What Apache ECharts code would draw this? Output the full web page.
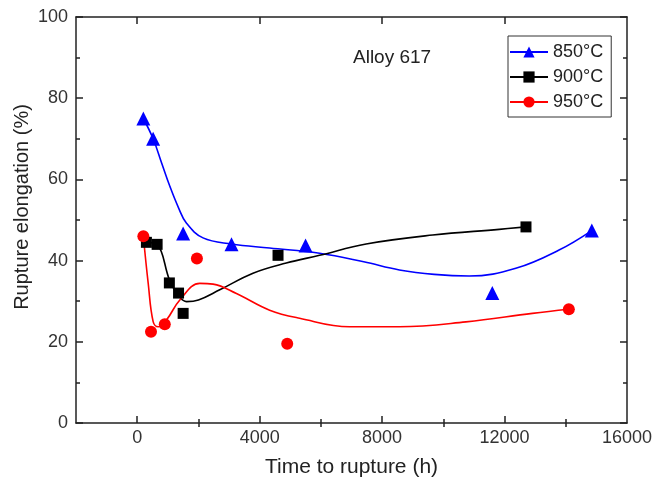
<!DOCTYPE html>
<html>
<head>
<meta charset="utf-8">
<script src="https://cdn.jsdelivr.net/npm/echarts@6/dist/echarts.min.js"></script>
<style>html,body{margin:0;padding:0;background:#fff;}#c{width:658px;height:485px;}</style>
</head>
<body>
<div id="c"></div>
<script>
// Measured points
const pts850 = [[200,75],[520,70],[1500,46.7],[3080,44],[5500,43.7],[11600,32],[14850,47.4]];
const pts900 = [[300,44.5],[650,44],[1050,34.5],[1350,32],[1500,27],[4600,41.3],[12700,48.3]];
const pts950 = [[200,46],[450,22.5],[900,24.3],[1950,40.5],[4900,19.5],[14100,28]];
// Fitted curves
const fit850 = [[200,75],[520,70],[800,64],[1066,58.3],[1350,53],[1610,49.2],[2150,45.6],[3077,44.1],[4326,43.1],[5956,41.8],[7400,39.7],[8564,37.7],[9700,36.6],[10846,36.2],[12368,38.1],[13780,42.6],[14850,47.4]];
const fit900 = [[300,44.5],[650,44],[1066,35],[1369,31.2],[1610,29.9],[2000,30.3],[2696,32.8],[3782,36.9],[4870,39.4],[5956,41.3],[7478,44.1],[9653,46.3],[11826,47.7],[12700,48.3]];
const fit950 = [[200,46],[359,34.4],[522,24.9],[685,23.7],[958,25.4],[1392,30.3],[2044,34.4],[2478,34.2],[3240,31.9],[4326,27.8],[5304,25.8],[6934,23.7],[8564,23.7],[10738,24.9],[12910,27.0],[14100,28]];
const xLabels = [0,4000,8000,12000,16000];
const xMajor = [0,4000,8000,12000];
const xMinor = [2000,6000,10000,14000];
const names = ['850°C','900°C','950°C'];
const colors = ['#0000ff','#000000','#ff0000'];
const symbols = ['triangle','rect','circle'];

const chart = echarts.init(document.getElementById('c'));
const font = 'Liberation Sans, Arial, sans-serif';
const baseX = {type:'value', min:-2000, max:16000, splitLine:{show:false},
  axisLine:{onZero:false, lineStyle:{color:'#222', width:1.5}}};
const baseY = {type:'value', min:0, max:100, interval:20, splitLine:{show:false},
  axisLine:{onZero:false, lineStyle:{color:'#222', width:1.5}}};
const option = {
  animation:false,
  textStyle:{fontFamily:font},
  grid:{left:76, right:31, top:17, bottom:62},
  xAxis:[
    Object.assign({}, baseX, {position:'bottom', name:'Time to rupture (h)', nameLocation:'middle', nameGap:34,
      nameTextStyle:{fontSize:21, color:'#222', fontFamily:font},
      axisTick:{inside:true, length:7, customValues:xMajor, lineStyle:{color:'#222', width:1.5}},
      axisLabel:{customValues:xLabels, formatter:v=>String(v), fontSize:18, color:'#333', margin:6, fontFamily:font}}),
    Object.assign({}, baseX, {position:'bottom', axisLine:{show:false},
      axisTick:{inside:true, length:4, customValues:xMinor, lineStyle:{color:'#222', width:1.5}},
      axisLabel:{show:false}}),
    Object.assign({}, baseX, {position:'top',
      axisTick:{inside:true, length:7, customValues:xMajor, lineStyle:{color:'#222', width:1.5}},
      axisLabel:{show:false}}),
    Object.assign({}, baseX, {position:'top', axisLine:{show:false},
      axisTick:{inside:true, length:4, customValues:xMinor, lineStyle:{color:'#222', width:1.5}},
      axisLabel:{show:false}})
  ],
  yAxis:[
    Object.assign({}, baseY, {position:'left',
      axisTick:{inside:true, length:7, lineStyle:{color:'#222', width:1.5}},
      minorTick:{show:true, splitNumber:2, length:4, lineStyle:{color:'#222', width:1.5}},
      axisLabel:{fontSize:18, color:'#333', margin:8, fontFamily:font}}),
    Object.assign({}, baseY, {position:'right',
      axisTick:{inside:true, length:7, lineStyle:{color:'#222', width:1.5}},
      minorTick:{show:true, splitNumber:2, length:4, lineStyle:{color:'#222', width:1.5}},
      axisLabel:{show:false}})
  ],
  legend:{
    orient:'vertical', left:508, top:36, data:names,
    backgroundColor:'#fff', borderColor:'#333', borderWidth:1,
    padding:[7,8,6,1], itemGap:7, itemWidth:38, itemHeight:14,
    textStyle:{fontSize:18, color:'#222', fontFamily:font}
  },
  graphic:[
    {type:'text', left:353, top:48, style:{text:'Alloy 617', fontSize:19, fill:'#222', fontFamily:font}},
    {type:'text', x:22, y:207, rotation:Math.PI/2,
      style:{text:'Rupture elongation (%)', fontSize:20, fill:'#222', fontFamily:font, align:'center', verticalAlign:'middle'}}
  ],
  series:[]
};
const fits = [fit850, fit900, fit950];
const ptss = [pts850, pts900, pts950];
const sizes = [14, 11, 12];
for (let i=0;i<3;i++){
  option.series.push({name:names[i], type:'line', data:fits[i], smooth:0.4, showSymbol:false,
    symbol:symbols[i], symbolSize:sizes[i], itemStyle:{color:colors[i]},
    lineStyle:{color:colors[i], width:1.6}, z:2});
  option.series.push({name:names[i]+'pts', type:'scatter', data:ptss[i], symbol:symbols[i],
    symbolSize:sizes[i], itemStyle:{color:colors[i], opacity:1}, z:3});
}
chart.setOption(option);
</script>
</body>
</html>
